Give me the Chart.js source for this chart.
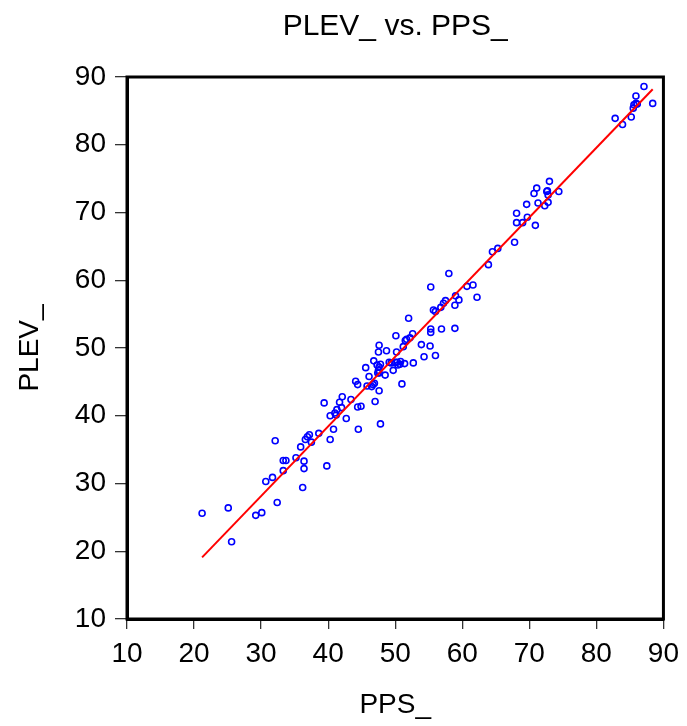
<!DOCTYPE html>
<html>
<head>
<meta charset="utf-8">
<script src="https://cdn.jsdelivr.net/npm/chart.js@4.4.1/dist/chart.umd.min.js"></script>
<style>
  html, body { margin: 0; padding: 0; background: #fff; }
  canvas { display: block; }
</style>
</head>
<body>
<canvas id="chartPlev" width="687" height="726"></canvas>
<script>
// PPS_ (x) and PLEV_ (y)
const pps = [21.2, 25.1, 25.6, 29.2, 30.1, 32.4, 30.7, 31.7, 32.1, 33.3, 33.3, 33.7, 35.2, 35.9, 36.4, 36.4, 36.2, 36.6, 36.9, 37.2,
  37.5, 38.6, 39.8, 40.3, 40.8, 40.3, 39.4, 41.0, 41.3, 41.2, 41.7, 42.0, 42.1, 42.7, 43.4, 44.1, 44.4, 44.4, 44.9, 44.5,
  45.6, 45.8, 46.1, 46.5, 46.7, 46.9, 47.0, 47.6, 47.8, 46.8, 47.3, 47.6, 47.8, 47.5, 47.6, 47.4, 47.6, 47.5, 48.7, 48.5,
  49.1, 49.4, 49.7, 50.1, 50.2, 50.0, 50.3, 50.8, 50.7, 50.4, 51.0, 51.2, 51.5, 51.7, 52.2, 52.6, 51.4, 52.0, 52.7, 53.9,
  54.3, 55.2, 55.3, 55.3, 56.0, 56.9, 55.3, 58.0, 55.7, 56.0, 56.8, 57.5, 57.2, 59.0, 59.5, 58.9, 60.7, 61.6, 62.2, 58.9,
  63.9, 64.5, 65.3, 67.8, 68.1, 68.1, 69.0, 69.7, 69.6, 70.9, 70.7, 71.1, 71.3, 72.3, 72.8, 72.6, 72.7, 72.8, 73.0, 74.4,
  82.8, 83.9, 85.2, 85.5, 85.6, 85.9, 86.1, 85.9, 87.1, 88.4];
const plev = [25.6, 26.4, 21.4, 25.3, 25.7, 27.2, 30.3, 30.9, 36.3, 31.9, 33.4, 33.4, 33.8, 35.4, 33.3, 32.2, 29.4, 36.5, 36.9, 37.2,
  36.1, 37.4, 32.6, 36.5, 38.0, 40.0, 41.9, 40.4, 40.9, 40.1, 42.0, 41.2, 42.8, 39.6, 42.4, 45.1, 44.6, 41.3, 41.4, 38.0,
  47.1, 44.4, 45.8, 44.3, 44.6, 44.8, 42.1, 43.7, 38.8, 48.1, 47.5, 47.2, 47.6, 46.7, 46.3, 46.3, 50.4, 49.4, 49.6, 46.0,
  47.9, 47.8, 46.7, 51.8, 49.4, 47.9, 47.9, 48.0, 47.6, 47.5, 44.7, 50.2, 51.1, 51.3, 51.5, 52.1, 47.7, 54.4, 47.8, 50.5,
  48.7, 50.3, 52.8, 52.3, 48.9, 52.8, 59.0, 61.0, 55.6, 55.4, 56.0, 57.0, 56.6, 57.7, 57.1, 56.3, 59.1, 59.3, 57.5, 52.9,
  62.3, 64.2, 64.7, 65.6, 69.9, 68.5, 68.5, 69.3, 71.2, 68.1, 72.8, 73.6, 71.4, 71.0, 71.5, 73.1, 73.2, 72.6, 74.6, 73.1,
  83.9, 83.0, 84.1, 85.4, 85.9, 86.1, 86.0, 87.2, 88.6, 86.1];
// fitted line end points
const fitX = [21.2, 88.4];
const fitY = [19.1, 88.2];
const xTicks = [10, 20, 30, 40, 50, 60, 70, 80, 90];
const yTicks = [10, 20, 30, 40, 50, 60, 70, 80, 90];

const fontFamily = '"Liberation Sans", Arial, Helvetica, sans-serif';

// box round the plot area, and keep the title centred over it
const frameBox = {
  id: "frameBox",
  afterLayout(chart) {
    if (chart.titleBlock) {
      chart.titleBlock.left = chart.chartArea.left;
      chart.titleBlock.right = chart.chartArea.right;
    }
  },
  afterDatasetsDraw(chart) {
    const { ctx, chartArea: a } = chart;
    ctx.save();
    ctx.strokeStyle = "#000";
    ctx.lineWidth = 3;
    ctx.strokeRect(a.left, a.top, a.right - a.left, a.bottom - a.top);
    ctx.restore();
  },
};

document.addEventListener("DOMContentLoaded", () => {
  new Chart(document.querySelector("#chartPlev"), {
    type: "scatter",
    data: {
      datasets: [
        {
          label: "PLEV_",
          data: pps.map((x, i) => ({ x: x, y: plev[i] })),
          pointStyle: "circle",
          pointRadius: 3,
          pointBorderWidth: 1.6,
          borderColor: "#0000ff",
          backgroundColor: "rgba(255,255,255,0)",
          order: 2,
        },
        {
          type: "line",
          label: "fit",
          data: fitX.map((x, i) => ({ x: x, y: fitY[i] })),
          borderColor: "#ff0000",
          borderWidth: 2,
          pointRadius: 0,
          fill: false,
          order: 1,
        },
      ],
    },
    options: {
      responsive: false,
      animation: false,
      layout: { padding: { left: 0, right: 19, top: 0, bottom: 0 } },
      scales: {
        x: {
          type: "linear",
          min: 10,
          max: 90,
          afterFit: (s) => { s.height = 107; },
          afterBuildTicks: (s) => { s.ticks = xTicks.map((v) => ({ value: v })); },
          grid: { drawOnChartArea: false, drawTicks: true, tickLength: 10, color: "#333", lineWidth: 1.3 },
          border: { display: true, color: "#000", width: 3 },
          ticks: { color: "#000", padding: 8, maxRotation: 0, font: { family: fontFamily, size: 28 } },
          title: { display: true, text: "PPS_", color: "#000", padding: { top: 4, bottom: 4 }, font: { family: fontFamily, size: 28 } },
        },
        y: {
          type: "linear",
          min: 10,
          max: 90,
          afterFit: (s) => { s.width = 127; },
          afterBuildTicks: (s) => { s.ticks = yTicks.map((v) => ({ value: v })); },
          grid: { drawOnChartArea: false, drawTicks: true, tickLength: 12, color: "#333", lineWidth: 1.3 },
          border: { display: true, color: "#000", width: 3 },
          ticks: { color: "#000", padding: 9, font: { family: fontFamily, size: 28 } },
          title: { display: true, text: "PLEV_", color: "#000", padding: { top: 13, bottom: 0 }, font: { family: fontFamily, size: 28 } },
        },
      },
      plugins: {
        legend: { display: false },
        tooltip: { enabled: false },
        title: {
          display: true,
          text: "PLEV_ vs. PPS_",
          color: "#000",
          padding: { top: 9, bottom: 32 },
          font: { family: fontFamily, size: 30, weight: "normal" },
        },
      },
    },
    plugins: [frameBox],
  });
});
</script>
</body>
</html>
